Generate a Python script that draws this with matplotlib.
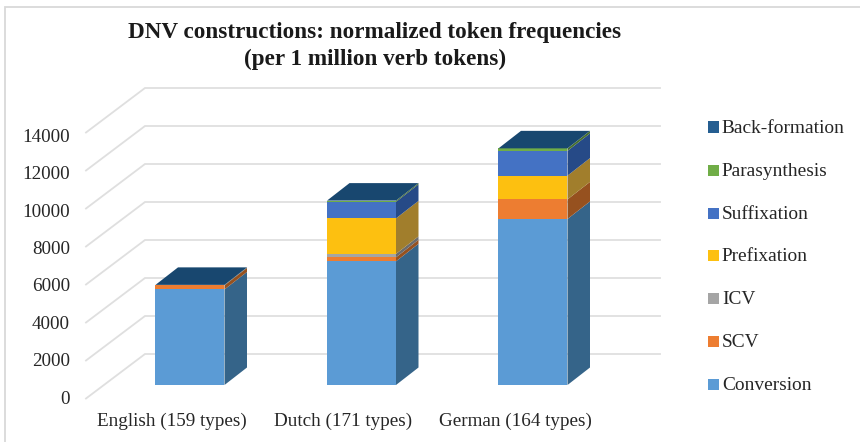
import matplotlib
matplotlib.use('Agg')
import matplotlib.pyplot as plt
from matplotlib.patches import Polygon, Rectangle
import numpy as np

categories = ['English (159 types)', 'Dutch (171 types)', 'German (164 types)']
series_names = ['Conversion', 'SCV', 'ICV', 'Prefixation', 'Suffixation', 'Parasynthesis', 'Back-formation']
conversion = [5030, 6510, 8740]
scv = [210, 210, 1030]
icv = [10, 180, 0]
prefixation = [5, 1870, 1250]
suffixation = [5, 870, 1300]
parasynthesis = [5, 60, 130]
back_formation = [5, 5, 5]
yticks = [0, 2000, 4000, 6000, 8000, 10000, 12000, 14000]

colors = ['#5b9bd5', '#ed7d31', '#a5a5a5', '#fdc010', '#4472c4', '#70ad47', '#255e91']
side_colors = ['#356489', '#96511f', '#6b6b6b', '#a17e2c', '#264a87', '#47702e', '#183c5e']
top_color = '#18476f'

W, H = 860, 442
plt.rcParams['font.family'] = ['Liberation Serif', 'DejaVu Serif']
fig = plt.figure(figsize=(W / 100, H / 100), dpi=100)

# one axes over the whole picture, x in category units, y in value units
px_per_unit = 0.019
px_per_cat = 171.5
x0_px, y0_px = 190, 385
ax = fig.add_axes([0, 0, 1, 1])
ax.set_xlim(-x0_px / px_per_cat, (W - x0_px) / px_per_cat)
ax.set_ylim(-(H - y0_px) / px_per_unit, y0_px / px_per_unit)
ax.axis('off')

dx = lambda p: p / px_per_cat
dy = lambda p: p / px_per_unit

# chart frame, only left and top edges are in the crop
ax.plot([dx(5 - x0_px), dx(5 - x0_px), dx(W - x0_px)],
        [-dy(H - y0_px), dy(y0_px - 7), dy(y0_px - 7)],
        color='#d9d9d9', lw=1.3, zorder=1, solid_joinstyle='miter')

# back wall and left side gridlines
left_front = dx(86 - x0_px)
left_back = dx(145 - x0_px)
right_back = dx(660 - x0_px)
for v in yticks:
    ax.plot([left_front, left_back, right_back],
            [v - dy(13.5), v + dy(31), v + dy(31)],
            color='#dfdfdf', lw=1.3, zorder=1, solid_joinstyle='miter')
    ax.text(dx(70 - x0_px), v * 0.985 - dy(14.2), str(v), ha='right', va='center',
            fontsize=13.7, color='#262626')

# bars
bar_w = 69 / px_per_cat
depth_x = dx(22.5)
depth_y = dy(17.5)
x = np.arange(len(categories))
values = [conversion, scv, icv, prefixation, suffixation, parasynthesis, back_formation]
bottom = np.zeros(3)
for vals, c, sc in zip(values, colors, side_colors):
    vals = np.array(vals, dtype=float)
    ax.bar(x, vals, bar_w, bottom=bottom, color=c, zorder=3, linewidth=0)
    for xi, b, v in zip(x, bottom, vals):
        if v <= 0:
            continue
        xr = xi + bar_w / 2
        ax.add_patch(Polygon([(xr, b), (xr + depth_x, b + depth_y),
                              (xr + depth_x, b + v + depth_y), (xr, b + v)],
                             closed=True, fc=sc, ec='none', zorder=3))
    bottom += vals
for xi, t in zip(x, bottom):
    xl, xr = xi - bar_w / 2, xi + bar_w / 2
    ax.add_patch(Polygon([(xl, t), (xr, t), (xr + depth_x, t + depth_y), (xl + depth_x, t + depth_y)],
                         closed=True, fc=top_color, ec='none', zorder=3))

for xi, name in zip(x, categories):
    ax.text(xi - dx(18), -dy(36.5), name, ha='center', va='center',
            fontsize=13.8, color='#262626')

ax.text(dx(375 - x0_px), dy(y0_px - 46), 'DNV constructions: normalized token frequencies\n(per 1 million verb tokens)',
        ha='center', va='center', fontsize=16.7, fontweight='bold', color='#1a1a1a', linespacing=1.42)

# legend, top entry is the last series
leg_y = [127, 170, 213, 255, 298, 341, 384.5]
for name, c, py in zip(series_names[::-1], colors[::-1], leg_y):
    ax.add_patch(Rectangle((dx(708 - x0_px), dy(y0_px - py - 5.5)), dx(11), dy(11), fc=c, ec='none', zorder=3))
    ax.text(dx(722 - x0_px), dy(y0_px - py - 1.5), name, ha='left', va='center', fontsize=13.95, color='#262626')

fig.savefig('out.png', dpi=100)
